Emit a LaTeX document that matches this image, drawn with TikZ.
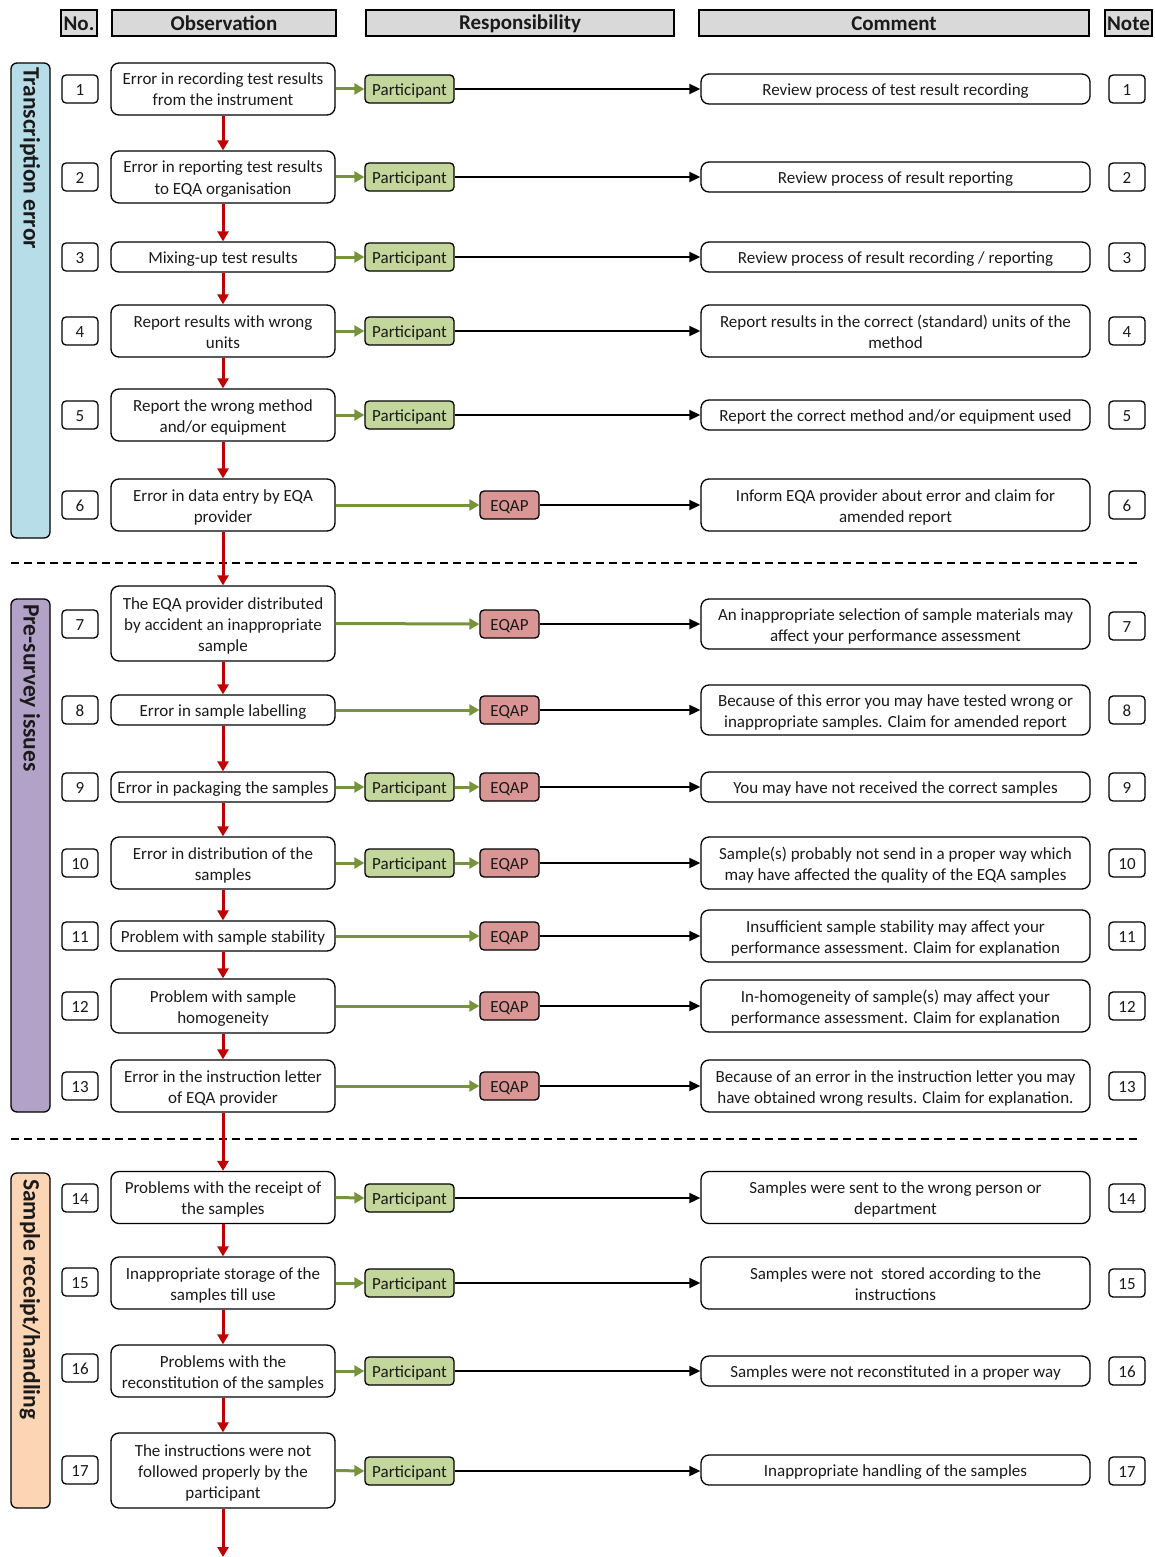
\documentclass[tikz,border=0pt]{standalone}
\usepackage{fontspec}
\setmainfont{Carlito}
\usetikzlibrary{arrows.meta}
\definecolor{hdrfill}{HTML}{D9D9D9}
\definecolor{partfill}{HTML}{C3D69B}
\definecolor{eqapfill}{HTML}{D99694}
\definecolor{garrowc}{HTML}{77933C}
\definecolor{rarrowc}{HTML}{C00000}
\definecolor{bluefill}{HTML}{B7DEE8}
\definecolor{purplefill}{HTML}{B3A2C7}
\definecolor{peachfill}{HTML}{FCD5B5}
\definecolor{txt}{HTML}{1A1A1A}
\begin{document}
\begin{tikzpicture}[x=1pt,y=-1pt,
  every node/.style={text=txt},
  base/.style={draw, line width=1.3pt, inner sep=0pt, align=flush center, font=\fontsize{17}{21}\selectfont,
    execute at begin node={\rule{0pt}{17pt}}, execute at end node={\rule[-4pt]{0pt}{0pt}}},
  obs/.style={base, rounded corners=8pt, text width=224pt},
  numbox/.style={base, rounded corners=4pt, text width=36pt, minimum height=28pt},
  part/.style={base, fill=partfill, rounded corners=4pt, text width=89pt, minimum height=28pt},
  eqap/.style={base, fill=eqapfill, rounded corners=4pt, text width=59pt, minimum height=28pt},
  cmt/.style={base, rounded corners=8pt, text width=389pt},
  hdr/.style={draw, fill=hdrfill, line width=2pt, inner sep=0pt, minimum height=26pt, font=\bfseries\fontsize{21}{24}\selectfont},
  side/.style={draw, line width=1.3pt, rounded corners=6pt, minimum width=39pt, inner sep=0pt},
  sidetext/.style={rotate=-90, anchor=west, font=\bfseries\fontsize{23.5}{26}\selectfont, inner sep=0pt},
  garrow/.style={-{Triangle[length=10pt,width=11pt]}, line width=3pt, draw=garrowc},
  rarrow/.style={-{Triangle[length=10pt,width=11pt]}, line width=3pt, draw=rarrowc},
  barrow/.style={-{Triangle[length=11pt,width=10pt]}, line width=1.8pt, draw=black},
  sep/.style={dashed, line width=1.6pt, dash pattern=on 8pt off 5pt}
]
\useasboundingbox (0,0) rectangle (1155,1557);

% headers
\node[hdr, minimum width=36pt] (hno) at (79,23.5) {No.};
\node[hdr, minimum width=224pt] (hobs) at (224,23.5) {Observation};
\node[hdr, minimum width=308pt] (hresp) at (520,23.5) {Responsibility};
\node[hdr, minimum width=390pt] (hcmt) at (894,23.5) {Comment};
\node[hdr, minimum width=47pt] (hnote) at (1128.5,23.5) {Note};

% side bars
\node[side, fill=bluefill, minimum height=475pt] (s1) at (30.5,300.5) {};
\node[sidetext] (s1t) at (30,67) {Transcription error};
\node[side, fill=purplefill, minimum height=513pt] (s2) at (30.5,855.5) {};
\node[sidetext] (s2t) at (30,604) {Pre-survey issues};
\node[side, fill=peachfill, minimum height=335pt] (s3) at (30.5,1340.5) {};
\node[sidetext] (s3t) at (30,1179) {Sample receipt/handling};

% separators
\draw[sep] (11,563) -- (1137,563);
\draw[sep] (11,1139) -- (1137,1139);

% rows
% 1
\node[numbox] (n1) at (80,89) {1};
\node[obs, minimum height=52pt] (o1) at (223,89) {Error in recording test results\\from the instrument};
\node[part] (p1) at (409.5,89) {Participant};
\node[cmt, minimum height=30pt] (c1) at (895.5,89) {Review process of test result recording};
\node[numbox] (m1) at (1127,89) {1};
% 2
\node[numbox] (n2) at (80,177) {2};
\node[obs, minimum height=52pt] (o2) at (223,177) {Error in reporting test results\\to EQA organisation};
\node[part] (p2) at (409.5,177) {Participant};
\node[cmt, minimum height=30pt] (c2) at (895.5,177) {Review process of result reporting};
\node[numbox] (m2) at (1127,177) {2};
% 3
\node[numbox] (n3) at (80,257) {3};
\node[obs, minimum height=30pt] (o3) at (223,257) {Mixing-up test results};
\node[part] (p3) at (409.5,257) {Participant};
\node[cmt, minimum height=30pt] (c3) at (895.5,257) {Review process of result recording / reporting};
\node[numbox] (m3) at (1127,257) {3};
% 4
\node[numbox] (n4) at (80,331) {4};
\node[obs, minimum height=52pt] (o4) at (223,331) {Report results with wrong\\units};
\node[part] (p4) at (409.5,331) {Participant};
\node[cmt, minimum height=52pt] (c4) at (895.5,331) {Report results in the correct (standard) units of the\\method};
\node[numbox] (m4) at (1127,331) {4};
% 5
\node[numbox] (n5) at (80,415) {5};
\node[obs, minimum height=52pt] (o5) at (223,415) {Report the wrong method\\and/or equipment};
\node[part] (p5) at (409.5,415) {Participant};
\node[cmt, minimum height=30pt] (c5) at (895.5,415) {Report the correct method and/or equipment used};
\node[numbox] (m5) at (1127,415) {5};
% 6
\node[numbox] (n6) at (80,505) {6};
\node[obs, minimum height=52pt] (o6) at (223,505) {Error in data entry by EQA\\provider};
\node[eqap] (e6) at (509.5,505) {EQAP};
\node[cmt, minimum height=52pt] (c6) at (895.5,505) {Inform EQA provider about error and claim for\\amended report};
\node[numbox] (m6) at (1127,505) {6};
% 7
\node[numbox] (n7) at (80,624) {7};
\node[obs, minimum height=75pt] (o7) at (223,623.5) {The EQA provider distributed\\by accident an inappropriate\\sample};
\node[eqap] (e7) at (509.5,624) {EQAP};
\node[cmt, minimum height=50pt] (c7) at (895.5,624) {An inappropriate selection of sample materials may\\affect your performance assessment};
\node[numbox] (m7) at (1127,626) {7};
% 8
\node[numbox] (n8) at (80,710) {8};
\node[obs, minimum height=30pt] (o8) at (223,710) {Error in sample labelling};
\node[eqap] (e8) at (509.5,710) {EQAP};
\node[cmt, minimum height=50pt] (c8) at (895.5,710) {Because of this error you may have tested wrong or\\inappropriate samples. Claim for amended report};
\node[numbox] (m8) at (1127,710) {8};
% 9
\node[numbox] (n9) at (80,787) {9};
\node[obs, minimum height=30pt] (o9) at (223,787) {Error in packaging the samples};
\node[part] (p9) at (409.5,787) {Participant};
\node[eqap] (e9) at (509.5,787) {EQAP};
\node[cmt, minimum height=30pt] (c9) at (895.5,787) {You may have not received the correct samples};
\node[numbox] (m9) at (1127,787) {9};
% 10
\node[numbox] (n10) at (80,863) {10};
\node[obs, minimum height=52pt] (o10) at (223,863) {Error in distribution of the\\samples};
\node[part] (p10) at (409.5,863) {Participant};
\node[eqap] (e10) at (509.5,863) {EQAP};
\node[cmt, minimum height=52pt] (c10) at (895.5,863) {Sample(s) probably not send in a proper way which\\may have affected the quality of the EQA samples};
\node[numbox] (m10) at (1127,863) {10};
% 11
\node[numbox] (n11) at (80,936) {11};
\node[obs, minimum height=30pt] (o11) at (223,936) {Problem with sample stability};
\node[eqap] (e11) at (509.5,936) {EQAP};
\node[cmt, minimum height=52pt] (c11) at (895.5,936) {Insufficient sample stability may affect your\\performance assessment. Claim for explanation};
\node[numbox] (m11) at (1127,936) {11};
% 12
\node[numbox] (n12) at (80,1006) {12};
\node[obs, minimum height=54pt] (o12) at (223,1006) {Problem with sample\\homogeneity};
\node[eqap] (e12) at (509.5,1006) {EQAP};
\node[cmt, minimum height=52pt] (c12) at (895.5,1006) {In-homogeneity of sample(s) may affect your\\performance assessment. Claim for explanation};
\node[numbox] (m12) at (1127,1006) {12};
% 13
\node[numbox] (n13) at (80,1086) {13};
\node[obs, minimum height=52pt] (o13) at (223,1086) {Error in the instruction letter\\of EQA provider};
\node[eqap] (e13) at (509.5,1086) {EQAP};
\node[cmt, minimum height=52pt] (c13) at (895.5,1086) {Because of an error in the instruction letter you may\\have obtained wrong results. Claim for explanation.};
\node[numbox] (m13) at (1127,1086) {13};
% 14
\node[numbox] (n14) at (80,1198) {14};
\node[obs, minimum height=52pt] (o14) at (223,1197.5) {Problems with the receipt of\\the samples};
\node[part] (p14) at (409.5,1198) {Participant};
\node[cmt, minimum height=52pt] (c14) at (895.5,1197.5) {Samples were sent to the wrong person or\\department};
\node[numbox] (m14) at (1127,1198) {14};
% 15
\node[numbox] (n15) at (80,1282) {15};
\node[obs, minimum height=52pt] (o15) at (223,1283) {Inappropriate storage of the\\samples till use};
\node[part] (p15) at (409.5,1283) {Participant};
\node[cmt, minimum height=52pt] (c15) at (895.5,1283) {Samples were not\ \ stored according to the\\instructions};
\node[numbox] (m15) at (1127,1283) {15};
% 16
\node[numbox] (n16) at (80,1368) {16};
\node[obs, minimum height=52pt] (o16) at (223,1371) {Problems with the\\reconstitution of the samples};
\node[part] (p16) at (409.5,1371) {Participant};
\node[cmt, minimum height=30pt] (c16) at (895.5,1371) {Samples were not reconstituted in a proper way};
\node[numbox] (m16) at (1127,1371) {16};
% 17
\node[numbox] (n17) at (80,1470) {17};
\node[obs, minimum height=75pt] (o17) at (223,1470.5) {The instructions were not\\followed properly by the\\participant};
\node[part] (p17) at (409.5,1471) {Participant};
\node[cmt, minimum height=30pt] (c17) at (895.5,1470) {Inappropriate handling of the samples};
\node[numbox] (m17) at (1127,1471) {17};
\coordinate (end) at (223,1557);

% green arrows and black arrows
\foreach \i in {1,2,3,4,5,14,15,16,17} {
  \draw[garrow] (o\i.east) -- (p\i.west);
  \draw[barrow] (p\i.east) -- (c\i.west |- p\i.east);
}
\foreach \i in {6,7,8,11,12,13} {
  \draw[garrow] (o\i.east) -- (e\i.west);
  \draw[barrow] (e\i.east) -- (c\i.west |- e\i.east);
}
\foreach \i in {9,10} {
  \draw[garrow] (o\i.east) -- (p\i.west);
  \draw[garrow] (p\i.east) -- (e\i.west);
  \draw[barrow] (e\i.east) -- (c\i.west |- e\i.east);
}
% red arrows
\foreach \i [evaluate=\i as \j using int(\i+1)] in {1,...,16} {
  \draw[rarrow] (o\i.south) -- (o\j.north);
}
\draw[rarrow] (o17.south) -- (end);
\end{tikzpicture}
\end{document}
